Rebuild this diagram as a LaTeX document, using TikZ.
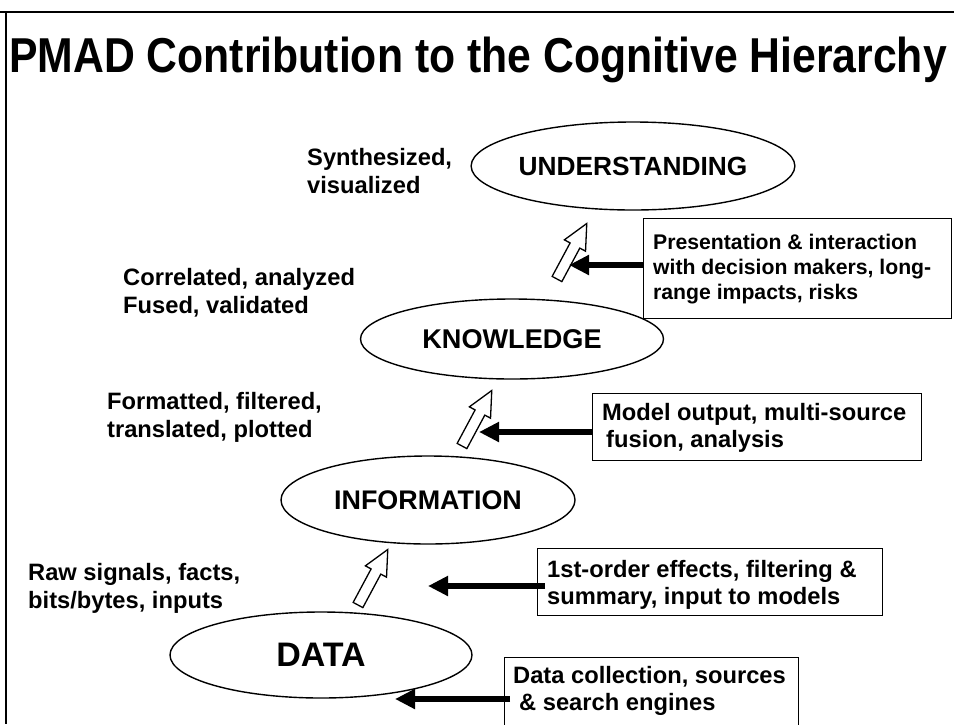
\documentclass[tikz,border=0pt]{standalone}
\usepackage{fontspec}
\setmainfont{Liberation Sans}
\usetikzlibrary{shapes.geometric,arrows.meta}
\begin{document}
\begin{tikzpicture}[x=1pt,y=-1pt,
  lvl/.style={draw, line width=1.4pt, ellipse, inner sep=0pt},
  lbl/.style={anchor=base west, align=left, inner sep=0pt, font=\bfseries\fontsize{23.7}{28}\selectfont},
  srcbox/.style={draw, line width=1.3pt, anchor=north west, inner sep=0pt},
  boxtxt/.style={anchor=base west, align=left, inner sep=0pt, font=\bfseries\fontsize{23.7}{27}\selectfont},
  feed/.style={line width=5.5pt, -{Triangle[length=20pt,width=19pt]}},
  hollow/.style={draw, line width=1.3pt, fill=white, line join=miter},
  uparrow/.pic={\draw[hollow] (0,-5.5) -- (38,-5.5) -- (38,-12) -- (63,0) -- (38,12) -- (38,5.5) -- (0,5.5) -- cycle;}
]
\useasboundingbox (0,0) rectangle (954,724);
\clip (0,0) rectangle (954,724);
\fill[white] (0,0) rectangle (954,724);

% frame
\draw[line width=2pt] (0,12) -- (954,12);
\draw[line width=2pt] (6,12) -- (6,724);

% title
\node[anchor=base west, inner sep=0pt, font=\bfseries\fontsize{49}{55}\selectfont] (title) at (9,72)
  {\scalebox{0.872}[1]{PMAD Contribution to the Cognitive Hierarchy}};

% levels
\node[lvl, minimum width=303pt, minimum height=88pt, font=\bfseries\fontsize{26.3}{30}\selectfont] (und) at (633,166) {UNDERSTANDING};
\node[lvl, minimum width=303pt, minimum height=80pt, font=\bfseries\fontsize{27.1}{30}\selectfont] (know) at (512,339) {KNOWLEDGE};
\node[lvl, minimum width=294pt, minimum height=88pt, font=\bfseries\fontsize{26.9}{30}\selectfont] (info) at (428,500) {INFORMATION};
\node[lvl, minimum width=302pt, minimum height=86pt, font=\bfseries\fontsize{34}{38}\selectfont] (data) at (321,655) {DATA};

% left labels (anchor = baseline of last line)
\node[lbl] (l1) at (307,193) {Synthesized,\\visualized};
\node[lbl] (l2) at (123,313) {Correlated, analyzed\\Fused, validated};
\node[lbl] (l3) at (107,437) {Formatted, filtered,\\translated, plotted};
\node[lbl] (l4) at (28,608) {Raw signals, facts,\\bits/bytes, inputs};

% hollow arrows
\pic[rotate=61.8] at (557,279) {uparrow};
\pic[rotate=61.8] at (462,446) {uparrow};
\pic[rotate=61.8] at (358,605) {uparrow};

% boxes
\node[srcbox, minimum width=308pt, minimum height=100pt] (b1) at (643,218) {};
\node[boxtxt, font=\bfseries\fontsize{21.2}{25}\selectfont] (b1t) at (653,299) {Presentation \& interaction\\with decision makers, long-\\range impacts, risks};

\node[srcbox, minimum width=329pt, minimum height=67pt] (b2) at (592,393) {};
\node[boxtxt] (b2t) at (602,447) {Model output, multi-source\\\hspace*{4pt}fusion, analysis};

\node[srcbox, minimum width=345pt, minimum height=67pt] (b3) at (537,548) {};
\node[boxtxt] (b3t) at (547,604) {1st-order effects, filtering \&\\summary, input to models};

\node[srcbox, minimum width=294pt, minimum height=80pt] (b4) at (504,657) {};
\node[boxtxt] (b4t) at (513,710) {Data collection, sources\\\hspace*{6pt}\& search engines};

% feed arrows
\coordinate (t1) at (569,265);
\coordinate (t2) at (479,432);
\coordinate (t3) at (428,586);
\coordinate (t4) at (395,699);
\draw[feed] (b1.west |- t1) -- (t1);
\draw[feed] (b2.west |- t2) -- (t2);
\draw[feed] ([xshift=8pt]b3.west |- t3) -- (t3);
\draw[feed] ([xshift=6pt]b4.west |- t4) -- (t4);
\end{tikzpicture}
\end{document}
